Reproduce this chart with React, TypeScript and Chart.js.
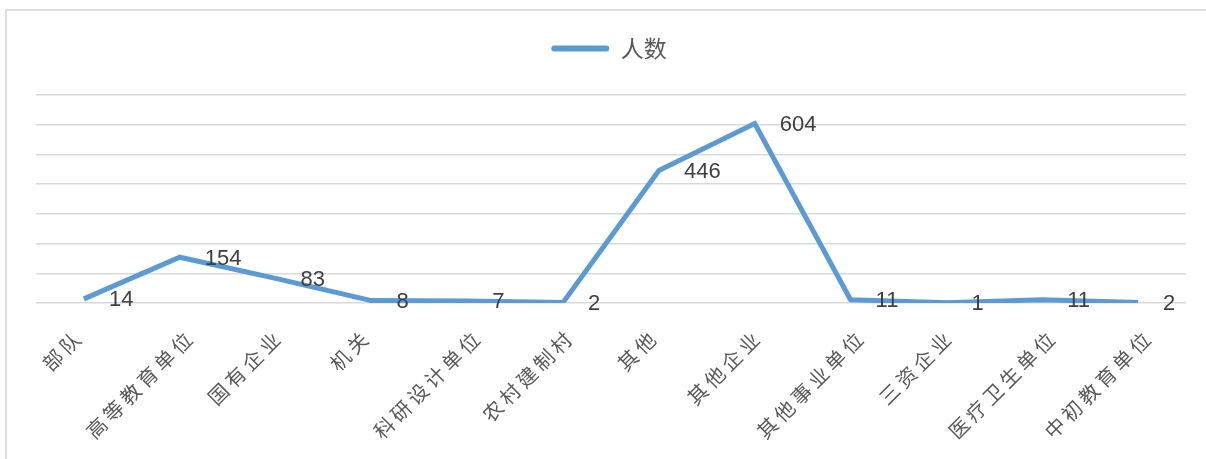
import React, { useEffect, useRef } from "react";
import { Chart, registerables } from "chart.js";

Chart.register(...registerables);

const categories = ["部队", "高等教育单位", "国有企业", "机关", "科研设计单位", "农村建制村", "其他", "其他企业", "其他事业单位", "三资企业", "医疗卫生单位", "中初教育单位"];
const seriesName = "人数";
const values = [14, 154, 83, 8, 7, 2, 446, 604, 11, 1, 11, 2];
const yMin = 0;
const yMax = 700;
const yStep = 100;

const valueLabelPlugin = {
  id: "valueLabels",
  afterDatasetsDraw(chart: any) {
    const ctx = chart.ctx;
    const meta = chart.getDatasetMeta(0);
    const data = chart.data.datasets[0].data;
    ctx.save();
    ctx.font = '22px "Liberation Sans"';
    ctx.fillStyle = "#404040";
    ctx.textAlign = "left";
    ctx.textBaseline = "middle";
    meta.data.forEach((el: any, i: number) => {
      ctx.fillText(String(data[i]), el.x + 25, el.y + 1.5);
    });
    ctx.restore();
  },
};

// Rotated category labels, placed at the category scale's tick pixels
const categoryLabelPlugin = {
  id: "categoryLabels",
  afterDraw(chart: any) {
    const s = chart.scales.x;
    const ctx = chart.ctx;
    const spacing = 4;
    ctx.save();
    ctx.font = '20px "Noto Sans CJK SC"';
    (ctx as any).letterSpacing = spacing + "px";
    ctx.fillStyle = "#595959";
    ctx.textAlign = "right";
    ctx.textBaseline = "middle";
    s.ticks.forEach((_t: any, i: number) => {
      const label = String(chart.data.labels[i]);
      const w = ctx.measureText(label).width - spacing;
      const wx = w * Math.SQRT1_2;
      const x = s.getPixelForTick(i) + 0.23 * wx - 14;
      const y = s.top + 33;
      ctx.save();
      ctx.translate(x, y);
      ctx.rotate(-Math.PI / 4);
      ctx.fillText(label, spacing, 0);
      ctx.restore();
    });
    ctx.restore();
  },
};

export default function App() {
  const ref = useRef<HTMLCanvasElement | null>(null);
  useEffect(() => {
    if (!ref.current) return;
    const chart = new Chart(ref.current, {
      type: "line",
      data: {
        labels: categories,
        datasets: [
          {
            label: seriesName,
            data: values,
            xAxisID: "x",
            yAxisID: "y",
            borderColor: "#5b9bd5",
            backgroundColor: "#5b9bd5",
            borderWidth: 5,
            pointRadius: 0,
            pointHoverRadius: 0,
            tension: 0,
            fill: false,
          },
        ],
      },
      options: {
        responsive: false,
        animation: false,
        devicePixelRatio: 1,
        layout: { padding: { top: 27, left: 32, right: 20, bottom: 0 } },
        plugins: {
          tooltip: { enabled: false },
          legend: {
            position: "top",
            labels: {
              boxWidth: 58,
              boxHeight: 6,
              useBorderRadius: true,
              borderRadius: 3,
              padding: 10,
              color: "#595959",
              font: { size: 23, family: '"Noto Sans CJK SC"' },
              generateLabels: (c: any) =>
                Chart.defaults.plugins.legend.labels.generateLabels(c).map((l: any) => ({ ...l, lineWidth: 0 })),
            },
          },
        },
        scales: {
          x: {
            type: "category",
            position: "bottom",
            offset: true,
            grid: { display: false, drawTicks: false },
            border: { display: false },
            ticks: { display: false, autoSkip: false },
            afterFit: (s: any) => {
              s.height = 156;
            },
          },
          xTop: {
            type: "category",
            position: "top",
            display: true,
            grid: { display: false, drawTicks: false },
            border: { display: false },
            ticks: { display: false },
            afterFit: (s: any) => {
              s.height = 25;
            },
          },
          y: {
            min: yMin,
            max: yMax,
            ticks: { stepSize: yStep, display: false },
            border: { display: false },
            grid: { color: "#d9d9d9", lineWidth: 1.5, drawTicks: false },
            afterFit: (s: any) => {
              s.width = 4;
            },
          },
        },
      },
      plugins: [valueLabelPlugin, categoryLabelPlugin],
    } as any);
    return () => chart.destroy();
  }, []);

  return (
    <div style={{ position: "fixed", left: 0, top: 0, width: 1206, height: 459, overflow: "hidden", background: "#fff" }}>
      <div
        style={{
          position: "absolute",
          left: 5,
          top: 9,
          width: 1400,
          height: 700,
          border: "2px solid #dedede",
          boxSizing: "border-box",
        }}
      />
      <canvas ref={ref} width={1206} height={459} style={{ position: "absolute", left: 0, top: 0, width: 1206, height: 459 }} />
    </div>
  );
}
